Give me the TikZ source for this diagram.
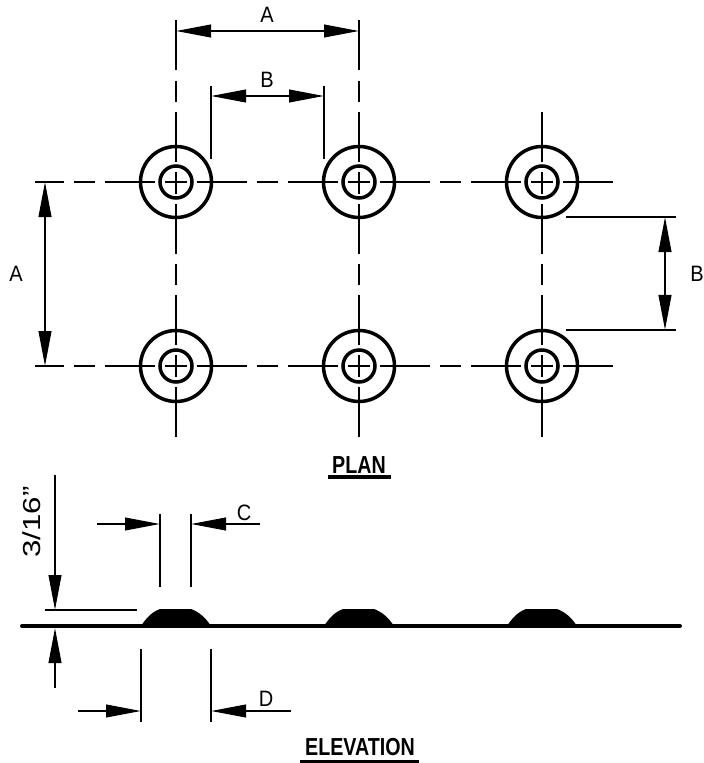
\documentclass[tikz,border=0pt]{standalone}
\usepackage{fontspec}
\setmainfont{Liberation Sans}
\usetikzlibrary{arrows.meta}
\tikzset{
    thinline/.style={line width=1.7pt},
    centerline/.style={thinline, dash pattern=on 1.5cm off 0.3cm on 0.645cm off 0.3cm},
    dimline/.style={thinline, -{Triangle[length=1.05cm,width=0.38cm]}},
    dimboth/.style={thinline, {Triangle[length=1.05cm,width=0.38cm]}-{Triangle[length=1.05cm,width=0.38cm]}},
    dimlabel/.style={font=\fontsize{19}{19}\selectfont, inner sep=0pt, xscale=0.9, transform shape},
    heightlabel/.style={font=\fontsize{21}{21}\selectfont, inner sep=0pt, rotate=90, xscale=1.27, transform shape},
    titlelabel/.style={font=\fontsize{21}{21}\selectfont\bfseries, inner sep=0pt, xscale=0.8, transform shape}
}
\begin{document}
\begin{tikzpicture}[x=0.03cm,y=-0.03cm]
    \useasboundingbox (0,0) rectangle (703,763);

    % Centre lines of the plan
    \draw[centerline, dash phase=0.645cm] (35,182) -- (613,182);
    \draw[centerline, dash phase=0.645cm] (35,366) -- (613,366);
    \draw[centerline] (176,20.5) -- (176,436.5);
    \draw[centerline] (359,20.5) -- (359,436.5);
    \draw[centerline] (542,112) -- (542,436.5);

    % Studs in plan
    \foreach \px in {176,359,542}
        \foreach \py in {182,366} {
            \draw[line width=3pt] (\px,\py) circle (35.5);
            \draw[line width=3pt] (\px,\py) circle (16);
        }

    % Dimension A, top and left
    \coordinate (topA1) at (176,31);
    \coordinate (topA2) at (359,31);
    \draw[dimboth] (topA1) -- (topA2);
    \node[dimlabel] (labelA1) at (267,15) {A};
    \coordinate (leftA1) at (45,182);
    \coordinate (leftA2) at (45,366);
    \draw[dimboth] (leftA1) -- (leftA2);
    \node[dimlabel] (labelA2) at (16,274) {A};

    % Dimension B, top and right
    \coordinate (topB1) at (211,96);
    \coordinate (topB2) at (324,96);
    \draw[thinline] (211,86) -- (211,159);
    \draw[thinline] (324,86) -- (324,159);
    \draw[dimboth] (topB1) -- (topB2);
    \node[dimlabel] (labelB1) at (267,80) {B};
    \coordinate (rightB1) at (665,217);
    \coordinate (rightB2) at (665,330);
    \draw[thinline] (566,217) -- (676,217);
    \draw[thinline] (566,330) -- (676,330);
    \draw[dimboth] (rightB1) -- (rightB2);
    \node[dimlabel] (labelB2) at (697,274) {B};

    \node[titlelabel] (plan) at (359,465) {PLAN};
    \draw[line width=2.6pt] (328,477) -- (391,477);

    % Elevation
    \foreach \px in {176,359,542}
        \fill ({\px-35},626) .. controls ({\px-29},617) and ({\px-24},612) .. ({\px-16},609)
            -- ({\px+15},609) .. controls ({\px+23},612) and ({\px+29},617) .. ({\px+35},626) -- cycle;
    \draw[line width=3.4pt, line cap=round] (22,626) -- (680,626);

    % Dimension C
    \draw[thinline] (160,514) -- (160,587);
    \draw[thinline] (191,514) -- (191,587);
    \coordinate (startC1) at (97,524);
    \coordinate (endC1) at (160,524);
    \coordinate (startC2) at (260,524);
    \coordinate (endC2) at (191,524);
    \draw[dimline] (startC1) -- (endC1);
    \draw[dimline] (startC2) -- (endC2);
    \node[dimlabel] (labelC) at (244,513) {C};

    % Dimension D
    \draw[thinline] (141,649) -- (141,722);
    \draw[thinline] (211,649) -- (211,722);
    \coordinate (startD1) at (78,711);
    \coordinate (endD1) at (141,711);
    \coordinate (startD2) at (291,711);
    \coordinate (endD2) at (211,711);
    \draw[dimline] (startD1) -- (endD1);
    \draw[dimline] (startD2) -- (endD2);
    \node[dimlabel] (labelD) at (266,699) {D};

    % Height of the stud
    \draw[thinline] (45,610) -- (137,610);
    \coordinate (startH1) at (55,475);
    \coordinate (endH1) at (55,610);
    \coordinate (startH2) at (55,688);
    \coordinate (endH2) at (55,628);
    \draw[dimline] (startH1) -- (endH1);
    \draw[dimline] (startH2) -- (endH2);
    \node[heightlabel] (labelH) at (32,522) {3/16"};

    \node[titlelabel] (elevation) at (360,747) {ELEVATION};
    \draw[line width=2.6pt] (300,762) -- (419,762);
\end{tikzpicture}
\end{document}
